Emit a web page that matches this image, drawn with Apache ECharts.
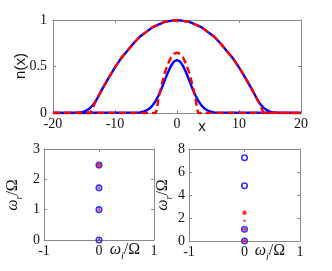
<!DOCTYPE html>
<html><head><meta charset="utf-8">
<script src="https://cdn.jsdelivr.net/npm/echarts@6/dist/echarts.min.js"></script>
<style>html,body{margin:0;padding:0;background:#fff}#c{width:332px;height:271px}</style>
</head><body><div id="c"></div>
<script>
// ---- data ----
const bigBlueX = [-20,-17,-16,-15.5,-15,-14.5,-14,-13.5,-13,-12,-11,-10,-9,-8,-7,-6,-5,-4,-3,-2,-1,0,1,2,3,4,5,6,7,8,9,10,11,12,13,13.5,14,14.5,15,15.5,16,17,20];
const bigBlueY = [0,0,0.003,0.007,0.015,0.03,0.055,0.09,0.14,0.265,0.38,0.49,0.59,0.67,0.75,0.82,0.87,0.92,0.95,0.98,0.99,1,0.99,0.98,0.95,0.92,0.87,0.82,0.75,0.67,0.59,0.49,0.38,0.265,0.14,0.09,0.055,0.03,0.015,0.007,0.003,0,0];
const bigRedX = [-20,-14,-13,-12,-11,-10,-9,-8,-7,-6,-5,-4,-3,-2,-1,0,1,2,3,4,5,6,7,8,9,10,11,12,13,14,20];
const bigRedY = [0,0,0.14,0.265,0.38,0.49,0.59,0.67,0.75,0.82,0.87,0.92,0.95,0.98,0.99,1,0.99,0.98,0.95,0.92,0.87,0.82,0.75,0.67,0.59,0.49,0.38,0.265,0.14,0,0];
const smallBlueX = [-20,-6,-5.5,-5,-4.5,-4,-3.5,-3,-2.5,-2,-1.5,-1,-0.5,0,0.5,1,1.5,2,2.5,3,3.5,4,4.5,5,5.5,6,20];
const smallBlueY = [0,0.006,0.013,0.025,0.045,0.077,0.123,0.185,0.261,0.346,0.43,0.503,0.553,0.57,0.553,0.503,0.43,0.346,0.261,0.185,0.123,0.077,0.045,0.025,0.013,0.006,0];
const smallRedX = [-20,-3.4,-3,-2.5,-2,-1.5,-1,-0.5,0,0.5,1,1.5,2,2.5,3,3.4,20];
const smallRedY = [0,0,0.144,0.299,0.425,0.523,0.594,0.636,0.65,0.636,0.594,0.523,0.425,0.299,0.144,0,0];

const topXTicks = [-20,-10,0,10,20];
const topYTicks = [0,0.5,1];
const botXTicks = [-1,0,1];

const leftBlue = [0,1,1.72,2.47];
const leftRedSmall = [0,1,1.72];
const leftRedBig = [2.47];
const rightBlue = [0,1.02,4.81,7.24];
const rightRedMid = [0,1.02];
const rightRedSmall = [1.77];
const rightRedBig = [2.46];

// ---- build ----
const zip = (xs, ys) => xs.map((x, i) => [x, ys[i]]);
const at0 = ys => ys.map(y => [0, y]);
const GRAY = '#8a8a8a';
const SERIF = '"Liberation Serif","DejaVu Serif",serif';
const SANS = '"Liberation Sans","DejaVu Sans",sans-serif';

function axis(kind, gi, pos, min, max, interval, labels, margin) {
  return {
    type: 'value', gridIndex: gi, position: pos, min, max, interval,
    axisLine: {show: true, onZero: false, lineStyle: {color: GRAY, width: 1}},
    axisTick: {show: true, inside: true, length: 3, lineStyle: {color: GRAY}},
    splitLine: {show: false},
    axisLabel: labels ? {show: true, margin: margin, color: '#111', fontFamily: SERIF, fontSize: 14,
      formatter: v => String(v)} : {show: false}
  };
}

const grids = [
  {left: 53, top: 20, width: 248, height: 93},
  {left: 44, top: 149, width: 110, height: 91},
  {left: 189, top: 149, width: 111, height: 92}
];

const xAxes = [
  axis('x', 0, 'bottom', topXTicks[0], topXTicks[topXTicks.length-1], 10, true, 4),
  axis('x', 0, 'top', -20, 20, 10, false),
  axis('x', 1, 'bottom', botXTicks[0], botXTicks[2], 1, true, 4),
  axis('x', 1, 'top', -1, 1, 1, false),
  axis('x', 2, 'bottom', botXTicks[0], botXTicks[2], 1, true, 4),
  axis('x', 2, 'top', -1, 1, 1, false)
];
const yAxes = [
  axis('y', 0, 'left', topYTicks[0], topYTicks[2], 0.5, true, 6),
  axis('y', 0, 'right', 0, 1, 0.5, false),
  axis('y', 1, 'left', 0, 3, 1, true, 4),
  axis('y', 1, 'right', 0, 3, 1, false),
  axis('y', 2, 'left', 0, 8, 2, true, 4),
  axis('y', 2, 'right', 0, 8, 2, false)
];

function line(xs, ys, color, dashed) {
  return {type: 'line', xAxisIndex: 0, yAxisIndex: 0, data: zip(xs, ys), showSymbol: false, symbol: 'none',
    silent: true, animation: false, z: dashed ? 4 : 3,
    lineStyle: {color, width: 2.4, type: dashed ? [7, 4] : 'solid'}};
}
function ring(xi, yi, ys) {
  return {type: 'scatter', xAxisIndex: xi, yAxisIndex: yi, data: at0(ys), symbol: 'circle', symbolSize: 5.5,
    animation: false, z: 3,
    itemStyle: {color: 'rgba(0,0,0,0)', borderColor: '#0000ff', borderWidth: 1.6}};
}
function dot(xi, yi, ys, size) {
  return {type: 'scatter', xAxisIndex: xi, yAxisIndex: yi, data: at0(ys), symbol: 'circle', symbolSize: size,
    animation: false, z: 4, itemStyle: {color: '#ff0000', borderWidth: 0}};
}

const series = [
  line(bigBlueX, bigBlueY, '#0000ff', false),
  line(smallBlueX, smallBlueY, '#0000ff', false),
  line(bigRedX, bigRedY, '#ff0000', true),
  line(smallRedX, smallRedY, '#ff0000', true),
  ring(2, 2, leftBlue),
  dot(2, 2, leftRedSmall, 2.6),
  dot(2, 2, leftRedBig, 4.6),
  ring(4, 4, rightBlue),
  dot(4, 4, rightRedMid, 3.4),
  dot(4, 4, rightRedSmall, 2.4),
  dot(4, 4, rightRedBig, 4.4)
];

const omegaRich = {
  w: {fontFamily: SERIF, fontStyle: 'italic', fontSize: 16, lineHeight: 22, fill: '#111', verticalAlign: 'middle'},
  s: {fontFamily: SERIF, fontStyle: 'italic', fontSize: 10, lineHeight: 10, fill: '#111', verticalAlign: 'bottom'},
  o: {fontFamily: SERIF, fontSize: 16, lineHeight: 22, fill: '#111', verticalAlign: 'middle'}
};
function omegaLabel(x, y, sub, rot) {
  return {type: 'text', x, y, rotation: rot, silent: true, z: 10,
    style: {text: '{w|ω}{s|' + sub + '}{o|/Ω}', rich: omegaRich, align: 'center', verticalAlign: 'middle'}};
}

const graphic = [
  {type: 'text', x: 21, y: 66, rotation: Math.PI / 2, silent: true,
    style: {text: 'n(x)', fontFamily: SANS, fontSize: 15, fill: '#111', align: 'center', verticalAlign: 'middle'}},
  {type: 'text', x: 202, y: 127, silent: true,
    style: {text: 'x', fontFamily: SANS, fontSize: 15, fill: '#111', align: 'center', verticalAlign: 'middle'}},
  omegaLabel(13, 195, 'r', Math.PI / 2),
  omegaLabel(163, 195, 'r', Math.PI / 2),
  omegaLabel(125, 250, 'i', 0),
  omegaLabel(270, 251, 'i', 0)
];

const chart = echarts.init(document.getElementById('c'), null, {renderer: 'canvas'});
chart.setOption({animation: false, grid: grids, xAxis: xAxes, yAxis: yAxes, series, graphic});
</script></body></html>
